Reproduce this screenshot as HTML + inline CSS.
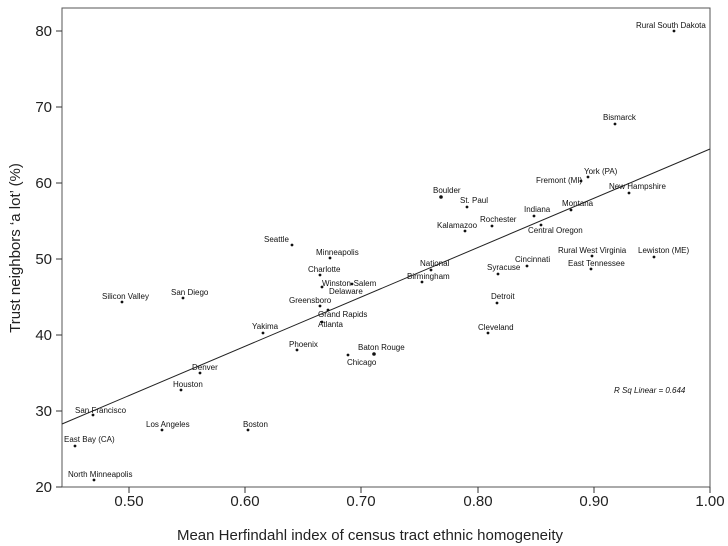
<!DOCTYPE html>
<html><head><meta charset="utf-8"><style>
body{margin:0;background:#fff}
svg{display:block}
.l{font:8px "Liberation Sans",sans-serif;fill:#111;dominant-baseline:middle}
.t{font:15px "Liberation Sans",sans-serif;fill:#222}
</style></head><body>
<svg width="728" height="546" viewBox="0 0 728 546">
<rect x="62" y="8" width="648" height="479" fill="none" stroke="#555" stroke-width="1"/>
<g stroke="#333">
<line x1="56" y1="31" x2="62" y2="31"/><line x1="56" y1="107" x2="62" y2="107"/><line x1="56" y1="183" x2="62" y2="183"/><line x1="56" y1="259" x2="62" y2="259"/><line x1="56" y1="335" x2="62" y2="335"/><line x1="56" y1="411" x2="62" y2="411"/><line x1="56" y1="487" x2="62" y2="487"/>
<line x1="129" y1="487" x2="129" y2="493"/><line x1="245" y1="487" x2="245" y2="493"/><line x1="361" y1="487" x2="361" y2="493"/><line x1="478" y1="487" x2="478" y2="493"/><line x1="594" y1="487" x2="594" y2="493"/><line x1="710" y1="487" x2="710" y2="493"/>
</g>
<g class="t" text-anchor="end">
<text x="52" y="36">80</text><text x="52" y="112">70</text><text x="52" y="188">60</text><text x="52" y="264">50</text><text x="52" y="340">40</text><text x="52" y="416">30</text><text x="52" y="492">20</text>
</g>
<g class="t" text-anchor="middle">
<text x="129" y="506">0.50</text><text x="245" y="506">0.60</text><text x="361" y="506">0.70</text><text x="478" y="506">0.80</text><text x="594" y="506">0.90</text><text x="710" y="506">1.00</text>
<text x="370" y="540">Mean Herfindahl index of census tract ethnic homogeneity</text>
<text transform="translate(20,248) rotate(-90)">Trust neighbors ‘a lot’ (%)</text>
</g>
<line x1="62" y1="424" x2="710" y2="149" stroke="#222" stroke-width="1"/>
<g fill="#111">
<circle cx="674" cy="31" r="1.4"/><circle cx="615" cy="124" r="1.4"/><circle cx="588" cy="177" r="1.4"/><circle cx="581" cy="181" r="1.4"/><circle cx="629" cy="193" r="1.4"/><circle cx="571" cy="210" r="1.4"/><circle cx="534" cy="216" r="1.4"/><circle cx="541" cy="225" r="1.4"/><circle cx="467" cy="207" r="1.4"/><circle cx="492" cy="226" r="1.4"/><circle cx="465" cy="231" r="1.4"/><circle cx="441" cy="197" r="1.8"/><circle cx="292" cy="245" r="1.4"/><circle cx="330" cy="258" r="1.4"/><circle cx="320" cy="275" r="1.4"/><circle cx="322" cy="287" r="1.4"/><circle cx="352" cy="284" r="1.4"/><circle cx="320" cy="306" r="1.4"/><circle cx="328" cy="310" r="1.4"/><circle cx="322" cy="322" r="1.4"/><circle cx="431" cy="270" r="1.4"/><circle cx="422" cy="282" r="1.4"/><circle cx="498" cy="274" r="1.4"/><circle cx="527" cy="266" r="1.4"/><circle cx="592" cy="256" r="1.4"/><circle cx="591" cy="269" r="1.4"/><circle cx="654" cy="257" r="1.4"/><circle cx="497" cy="303" r="1.4"/><circle cx="488" cy="333" r="1.4"/><circle cx="263" cy="333" r="1.4"/><circle cx="297" cy="350" r="1.4"/><circle cx="374" cy="354" r="1.8"/><circle cx="348" cy="355" r="1.4"/><circle cx="200" cy="373" r="1.4"/><circle cx="181" cy="390" r="1.4"/><circle cx="93" cy="415" r="1.4"/><circle cx="162" cy="430" r="1.4"/><circle cx="248" cy="430" r="1.4"/><circle cx="75" cy="446" r="1.4"/><circle cx="94" cy="480" r="1.4"/><circle cx="122" cy="302" r="1.4"/><circle cx="183" cy="298" r="1.4"/>
</g>
<g class="l">
<text x="636" y="26">Rural South Dakota</text><text x="603" y="118">Bismarck</text><text x="584" y="172">York (PA)</text><text x="536" y="181">Fremont (MI)</text><text x="609" y="187">New Hampshire</text><text x="562" y="204">Montana</text><text x="524" y="210">Indiana</text><text x="528" y="231">Central Oregon</text><text x="460" y="201">St. Paul</text><text x="480" y="220">Rochester</text><text x="437" y="226">Kalamazoo</text><text x="433" y="191">Boulder</text><text x="264" y="240">Seattle</text><text x="316" y="253">Minneapolis</text><text x="308" y="270">Charlotte</text><text x="322" y="284">Winston-Salem</text><text x="329" y="292">Delaware</text><text x="289" y="301">Greensboro</text><text x="318" y="315">Grand Rapids</text><text x="318" y="325">Atlanta</text><text x="420" y="264">National</text><text x="407" y="277">Birmingham</text><text x="487" y="268">Syracuse</text><text x="515" y="260">Cincinnati</text><text x="558" y="251">Rural West Virginia</text><text x="568" y="264">East Tennessee</text><text x="638" y="251">Lewiston (ME)</text><text x="491" y="297">Detroit</text><text x="478" y="328">Cleveland</text><text x="252" y="327">Yakima</text><text x="289" y="345">Phoenix</text><text x="358" y="348">Baton Rouge</text><text x="347" y="363">Chicago</text><text x="192" y="368">Denver</text><text x="173" y="385">Houston</text><text x="75" y="411">San Francisco</text><text x="146" y="425">Los Angeles</text><text x="243" y="425">Boston</text><text x="64" y="440">East Bay (CA)</text><text x="68" y="475">North Minneapolis</text><text x="102" y="297">Silicon Valley</text><text x="171" y="293">San Diego</text>
<text x="614" y="391" font-style="italic">R Sq Linear = 0.644</text>
</g>
</svg>
</body></html>
